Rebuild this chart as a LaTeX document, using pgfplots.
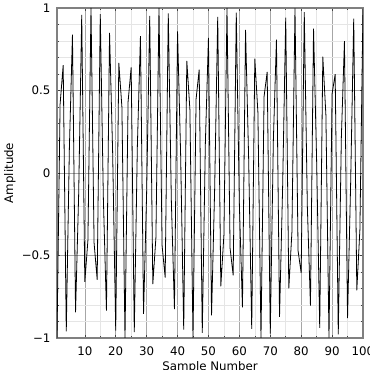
\documentclass[border=0pt]{standalone}
\usepackage{fontspec}
\setmainfont{DejaVu Sans}
\usepackage{pgfplots}
\pgfplotsset{compat=1.18}
\pgfplotstableread{
n y
1 -1.0000
2 0.4161
3 0.6536
4 -0.9602
5 0.1455
6 0.8391
7 -0.8439
8 -0.1367
9 0.9577
10 -0.6603
11 -0.4081
12 1.0000
13 -0.4242
14 -0.6469
15 0.9626
16 -0.1543
17 -0.8342
18 0.8486
19 0.1280
20 -0.9551
21 0.6669
22 0.4000
23 -0.9998
24 0.4322
25 0.6401
26 -0.9650
27 0.1630
28 0.8293
29 -0.8533
30 -0.1192
31 0.9524
32 -0.6735
33 -0.3918
34 0.9996
35 -0.4401
36 -0.6334
37 0.9672
38 -0.1717
39 -0.8243
40 0.8578
41 0.1105
42 -0.9497
43 0.6800
44 0.3837
45 -0.9994
46 0.4481
47 0.6264
48 -0.9694
49 0.1805
50 0.8193
51 -0.8625
52 -0.1017
53 0.9469
54 -0.6865
55 -0.3754
56 0.9990
57 -0.4560
58 -0.6198
59 0.9716
60 -0.1891
61 -0.8142
62 0.8668
63 0.0928
64 -0.9441
65 0.6929
66 0.3672
67 -0.9986
68 0.4639
69 0.6126
70 -0.9736
71 0.1979
72 0.8090
73 -0.8712
74 -0.0841
75 0.9410
76 -0.6992
77 -0.3590
78 0.9981
79 -0.4716
80 -0.6059
81 0.9756
82 -0.2065
83 -0.8039
84 0.8755
85 0.0751
86 -0.9381
87 0.7055
88 0.3508
89 -0.9975
90 0.4796
91 0.5985
92 -0.9775
93 0.2152
94 0.7985
95 -0.8798
96 -0.0663
97 0.9349
98 -0.7117
99 -0.3425
100 0.9968
}\datatable
\begin{document}
\begin{tikzpicture}[x=1pt,y=1pt]
\useasboundingbox (0,0) rectangle (370,370);
\begin{axis}[
  at={(57pt,32pt)}, anchor=south west,
  scale only axis, width=306pt, height=330pt,
  xmin=1, xmax=100, ymin=-1, ymax=1,
  xtick={10,20,30,40,50,60,70,80,90,100},
  xticklabels={10,20,30,40,50,60,70,80,90,100},
  ytick={-1,-0.5,0,0.5,1},
  yticklabels={−1,−0.5,0,0.5,1},
  minor x tick num=1,
  minor y tick num=4,
  grid=both,
  major grid style={color=black!35, line width=0.6pt},
  minor grid style={color=black!10, line width=0.6pt},
  axis line style={color=black!50, line width=1.6pt},
  tick style={color=black!75, line width=0.6pt},
  tick align=inside,
  major tick length=3pt, minor tick length=2pt,
  tick label style={font=\fontsize{11.8}{13}\selectfont},
  label style={font=\fontsize{11.8}{13}\selectfont},
  xticklabel style={anchor=base, yshift=-17.3pt},
  yticklabel style={anchor=east, xshift=-3pt},
  xlabel={Sample Number}, ylabel={Amplitude},
  xlabel style={at={(axis description cs:0.5,-0.097)}, anchor=base},
  ylabel style={at={(axis description cs:-0.154,0.5)}, anchor=center},
]
\addplot[black, line width=0.8pt, mark=none] table[x=n, y=y] {\datatable};
\end{axis}
\end{tikzpicture}
\end{document}
